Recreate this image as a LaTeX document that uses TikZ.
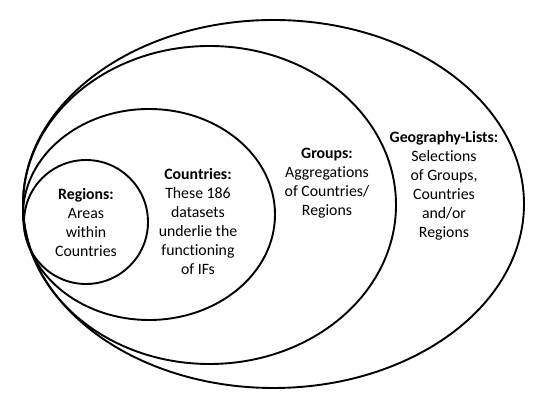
\documentclass[tikz,border=0pt]{standalone}
\usepackage{fontspec}
\setmainfont[Ligatures={NoCommon}]{Carlito}
\usetikzlibrary{shapes.geometric}
\begin{document}
\begin{tikzpicture}[x=1pt,y=1pt,
  ring/.style={draw=black,line width=1.9pt},
  lbl/.style={align=center,inner sep=0pt,font=\fontsize{15.8}{19}\selectfont}]
\useasboundingbox (0,0) rectangle (550,403);
\draw[ring] (273.5,199) ellipse [x radius=250.5,y radius=184];
\draw[ring] (209.5,198) ellipse [x radius=186.5,y radius=159];
\draw[ring] (149,188.5) ellipse [x radius=126,y radius=105.5];
\draw[ring] (86,181) circle [radius=62];
\node[lbl] (regions) at (86,180) {\textbf{Regions:}\\Areas\\within\\Countries};
\node[lbl] (countries) at (198,181.5) {\textbf{Countries:}\\These 186\\datasets\\underlie the\\functioning\\of IFs};
\node[lbl] (groups) at (327,220) {\textbf{Groups:}\\Aggregations\\of Countries/\\Regions};
\node[lbl] (geo) at (444,217.5) {\textbf{Geography-Lists:}\\Selections\\of Groups,\\Countries\\and/or\\Regions};
\end{tikzpicture}
\end{document}
